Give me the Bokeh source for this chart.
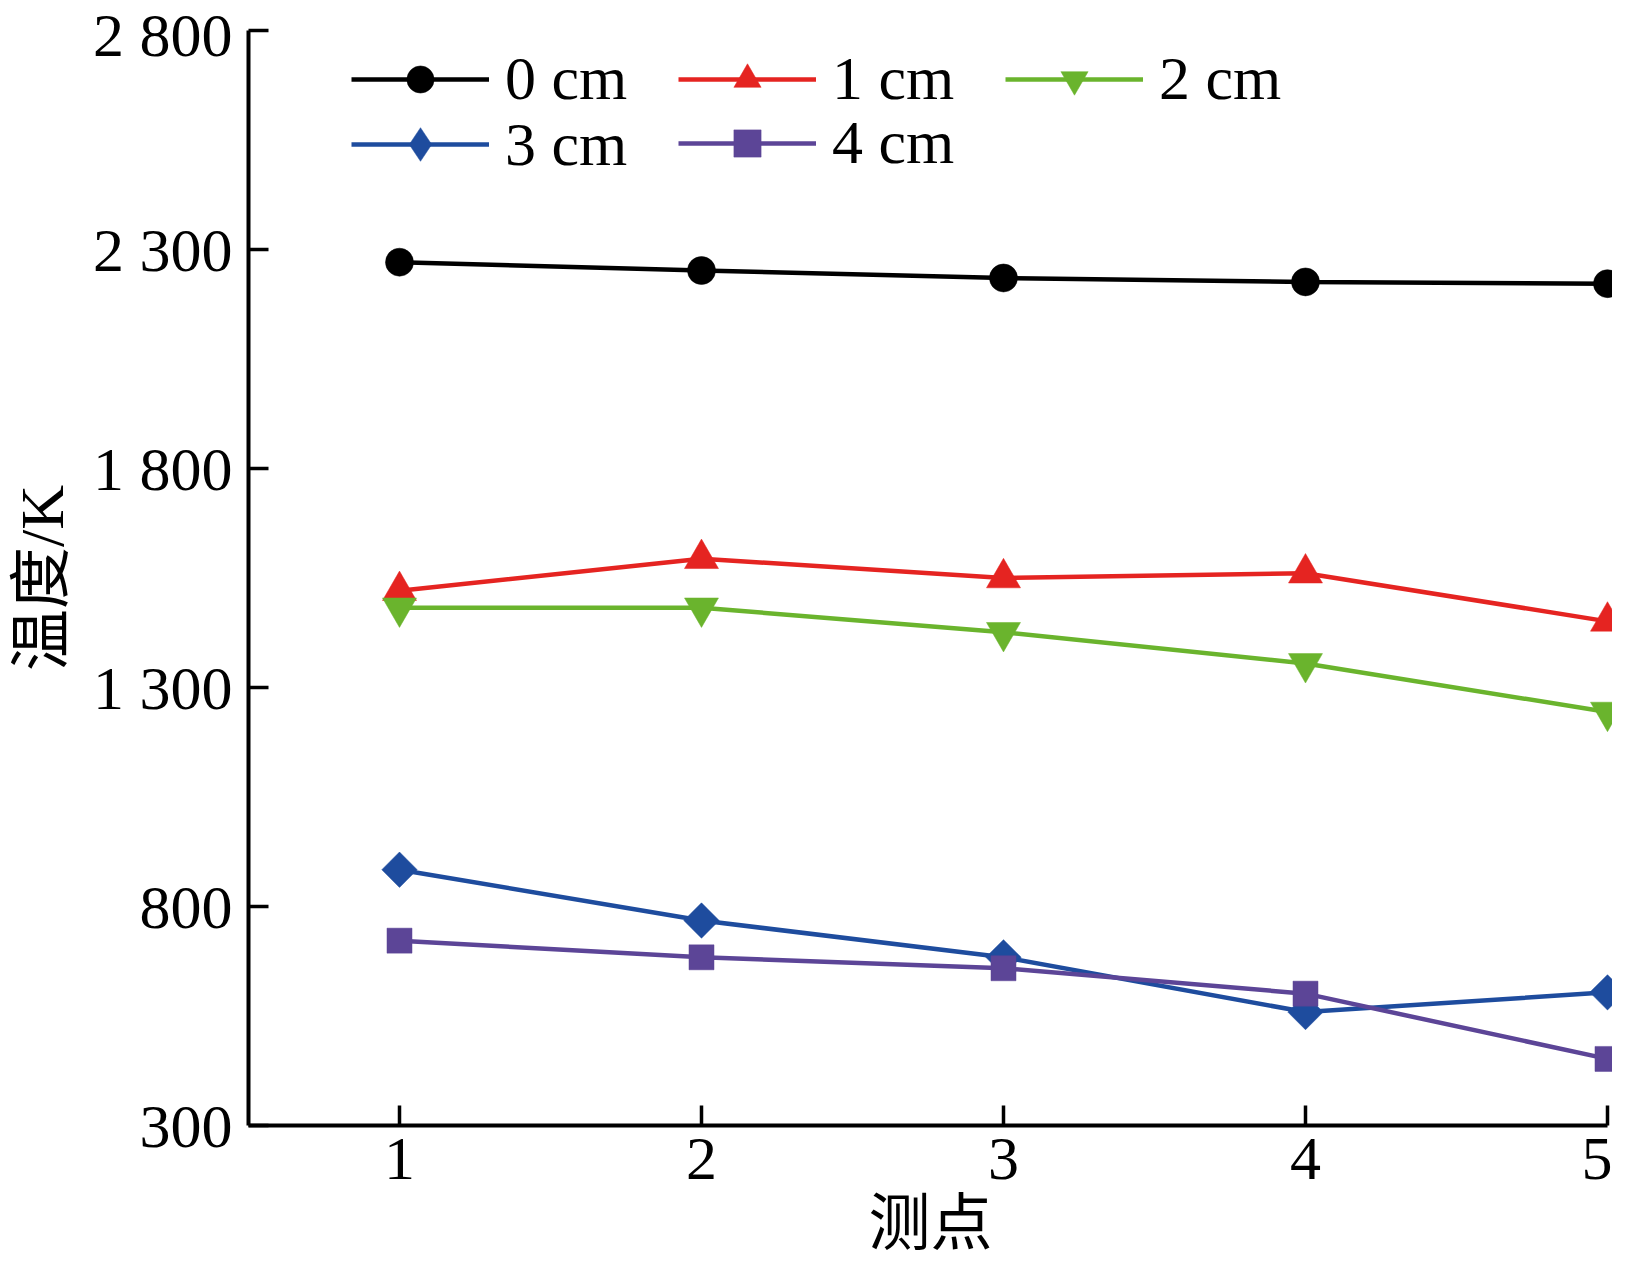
import math

from bokeh.plotting import figure
from bokeh.models import FixedTicker, Range1d, Legend, LegendItem
from bokeh.embed import file_html
from bokeh.resources import INLINE

# measuring points and temperatures (K) at each depth
points = [1, 2, 3, 4, 5]
t_0cm = [2271, 2252, 2235, 2226, 2222]
t_1cm = [1521, 1594, 1550, 1561, 1451]
t_2cm = [1482, 1482, 1426, 1355, 1244]
t_3cm = [884, 768, 684, 559, 604]
t_4cm = [722, 684, 659, 601, 452]

series_names = ["0 cm", "1 cm", "2 cm", "3 cm", "4 cm"]
x_ticks = [1, 2, 3, 4, 5]
y_ticks = [300, 800, 1300, 1800, 2300, 2800]
y_tick_labels = ["300", "800", "1 300", "1 800", "2 300", "2 800"]

serif = "Liberation Serif"
mixed = "'Liberation Serif', 'Noto Sans CJK SC'"

p = figure(width=1612, height=1263,
           x_range=Range1d(0.5, 5.0166), y_range=Range1d(300, 2800),
           output_backend="svg", toolbar_location=None,
           min_border_left=248, min_border_right=0,
           min_border_top=30, min_border_bottom=138)

p.grid.visible = False
p.outline_line_color = None
p.background_fill_color = "white"

p.xaxis.axis_label = "测点"
p.yaxis.axis_label = "温度/K"
p.xaxis.ticker = FixedTicker(ticks=x_ticks)
p.yaxis.ticker = FixedTicker(ticks=y_ticks)
p.yaxis.major_label_overrides = dict(zip(y_ticks, y_tick_labels))
p.xaxis.bounds = (0.5, 5)
p.yaxis.bounds = (300, 2800)

for ax in (p.xaxis[0], p.yaxis[0]):
    ax.axis_line_width = 4
    ax.axis_line_color = "black"
    ax.major_tick_line_width = 3.5
    ax.major_tick_line_color = "black"
    ax.major_tick_in = 20
    ax.major_tick_out = 0
    ax.minor_tick_line_color = None
    ax.major_label_text_font = serif
    ax.major_label_text_font_size = "62px"
    ax.major_label_text_color = "black"
    ax.axis_label_text_font = mixed
    ax.axis_label_text_font_size = "62px"
    ax.axis_label_text_font_style = "normal"
    ax.axis_label_text_color = "black"

p.xaxis.major_label_standoff = 13
p.xaxis.axis_label_standoff = 8
p.yaxis.major_label_standoff = 16
p.yaxis.axis_label_standoff = 14

styles = [
    (t_0cm, "#000000", "circle", 28, 0),
    (t_1cm, "#E52421", "triangle", 34, 0),
    (t_2cm, "#6AB42D", "inverted_triangle", 34, 0),
    (t_3cm, "#1E4C9E", "square", 25, math.pi / 4),
    (t_4cm, "#5C4597", "square", 25, 0),
]

items = []
for name, (vals, color, marker, size, angle) in zip(series_names, styles):
    r_line = p.line(points, vals, line_color=color, line_width=4.5)
    key = None
    if angle:
        # upright diamond for the legend swatch, tucked under the tilted squares
        key = p.scatter(points, vals, marker="diamond", size=34,
                        fill_color=color, line_color=color, line_width=0.5)
    r_pts = p.scatter(points, vals, marker=marker, size=size, angle=angle,
                      fill_color=color, line_color=color, line_width=0.5)
    items.append(LegendItem(label=name, renderers=[r_line, key or r_pts]))

# one legend per block so the rows sit as tight as in the source figure
legend_blocks = [
    (items[:3], (103, 1011), 68),
    (items[3:4], (103, 939), 84),
    (items[4:], (430, 947), 68),
]
for block_items, loc, gh in legend_blocks:
    leg = Legend(items=block_items, orientation="horizontal", location=loc)
    leg.label_text_font = serif
    leg.label_text_font_size = "62px"
    leg.label_text_color = "black"
    leg.glyph_width = 138
    leg.glyph_height = gh
    leg.label_height = gh
    leg.label_standoff = 16
    leg.label_width = 173
    leg.spacing = 0
    leg.padding = 0
    leg.margin = 0
    leg.border_line_color = None
    leg.background_fill_alpha = 0
    p.add_layout(leg, "center")

open("out.html", "w").write(file_html(p, INLINE))
